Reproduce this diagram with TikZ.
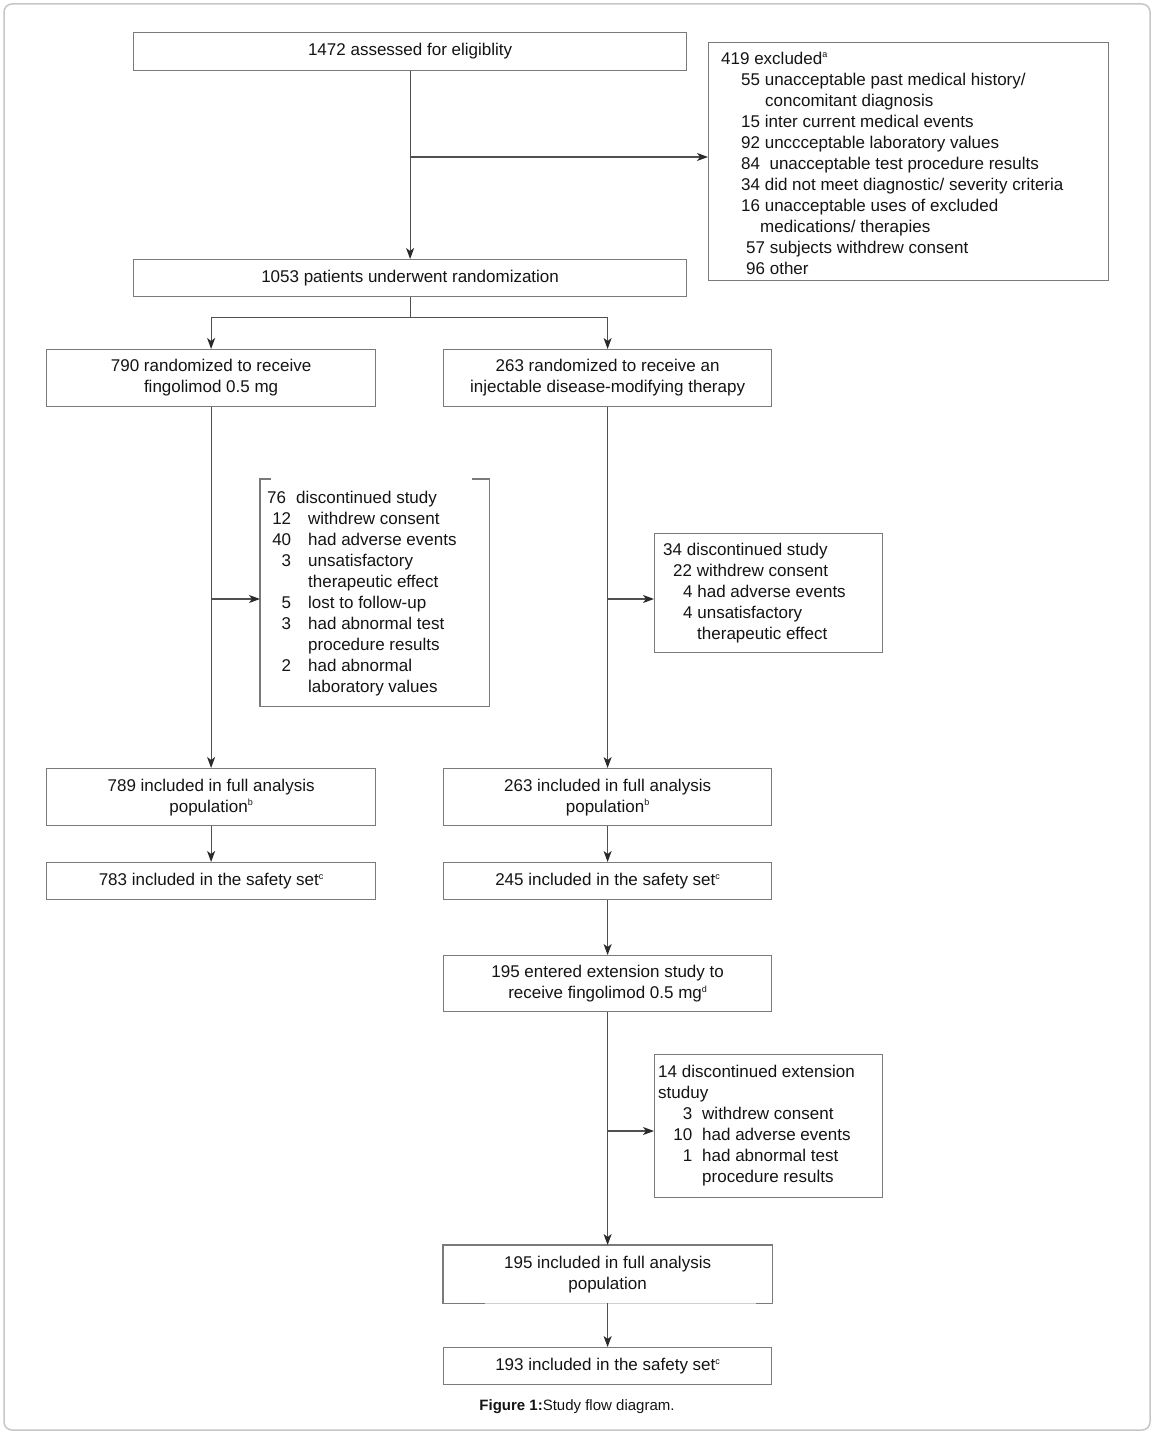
\documentclass[tikz,border=0pt]{standalone}
\usepackage{fontspec}
\setmainfont{Liberation Sans}
\usetikzlibrary{arrows.meta,calc}
\definecolor{boxc}{HTML}{7A7A7A}
\definecolor{linec}{HTML}{505050}
\definecolor{tipc}{HTML}{2A2A2A}
\definecolor{txtc}{HTML}{141414}
\definecolor{framec}{HTML}{C6C6C6}
\newcommand\supx[1]{\raisebox{6.5pt}{\fontsize{9}{9}\selectfont #1}}
\newcommand\nl[2]{\makebox[24pt][r]{#1}\hspace{17pt}#2}
\newcommand\hl[2]{\hspace{16pt}\makebox[18pt][r]{#1}\hspace{10pt}#2}
\begin{document}
\begin{tikzpicture}[x=1pt,y=-1pt,
  box/.style={draw=boxc,line width=1.2pt,fill=white,inner sep=0pt,anchor=north west,align=center,font=\fontsize{17}{21}\selectfont,text=txtc},
  lst/.style={inner sep=0pt,anchor=north west,font=\fontsize{17}{21}\selectfont,text=txtc},
  conn/.style={draw=linec,line width=1.1pt},
  arr/.style={conn,-{Stealth[length=11pt,width=8pt,inset=3pt,color=tipc]}}]
\useasboundingbox (0,0) rectangle (1154,1434);
\draw[framec,line width=1.5pt,rounded corners=8pt] (4,4) rectangle (1150,1430);

% boxes
\node[box,minimum width=553pt,minimum height=38pt] (A) at (133,32) {1472 assessed for eligiblity};
\node[box,minimum width=400pt,minimum height=238pt] (X) at (708,42) {};
\node[lst] (Xt) at ($(X.north west)+(13,7.6)$) {\begin{tabular}{@{}l@{}}419 excluded\supx{a}\\
\hspace{20pt}55 unacceptable past medical history/\\
\hspace{44pt}concomitant diagnosis\\
\hspace{20pt}15 inter current medical events\\
\hspace{20pt}92 unccceptable laboratory values\\
\hspace{20pt}84\ \ unacceptable test procedure results\\
\hspace{20pt}34 did not meet diagnostic/ severity criteria\\
\hspace{20pt}16 unacceptable uses of excluded\\
\hspace{39pt}medications/ therapies\\
\hspace{25pt}57 subjects withdrew consent\\
\hspace{25pt}96 other\end{tabular}};

\node[box,minimum width=553pt,minimum height=37pt] (B) at (133,259) {1053 patients underwent randomization};
\node[box,minimum width=329pt,minimum height=57pt] (C1) at (46,349) {790 randomized to receive\\ fingolimod 0.5 mg};
\node[box,minimum width=328pt,minimum height=57pt] (C2) at (443,349) {263 randomized to receive an\\ injectable disease-modifying therapy};

\node[box,draw=none,minimum width=228pt,minimum height=226pt] (D1) at (260,479) {};
\draw[draw=boxc,line width=1.2pt] ($(D1.north west)+(11,0)$) -- (D1.north west) -- (D1.south west) -- (D1.south east) -- (D1.north east) -- ++(-17,0);
\node[lst] (D1t) at ($(D1.north west)+(7,9.6)$) {\begin{tabular}{@{}l@{}}76\hspace{10pt}discontinued study\\
\nl{12}{withdrew consent}\\
\nl{40}{had adverse events}\\
\nl{3}{unsatisfactory}\\
\nl{}{therapeutic effect}\\
\nl{5}{lost to follow-up}\\
\nl{3}{had abnormal test}\\
\nl{}{procedure results}\\
\nl{2}{had abnormal}\\
\nl{}{laboratory values}\end{tabular}};

\node[box,minimum width=228pt,minimum height=119pt] (D2) at (654,533) {};
\node[lst] (D2t) at ($(D2.north west)+(9,7.4)$) {\begin{tabular}{@{}l@{}}34 discontinued study\\
\hspace{10pt}22 withdrew consent\\
\hspace{20pt}4 had adverse events\\
\hspace{20pt}4 unsatisfactory\\
\hspace{34pt}therapeutic effect\end{tabular}};

\node[box,minimum width=329pt,minimum height=57pt] (E1) at (46,768) {789 included in full analysis\\ population\supx{b}};
\node[box,minimum width=328pt,minimum height=57pt] (E2) at (443,768) {263 included in full analysis\\ population\supx{b}};
\node[box,minimum width=329pt,minimum height=37pt] (F1) at (46,862) {783 included in the safety set\supx{c}};
\node[box,minimum width=328pt,minimum height=37pt] (F2) at (443,862) {245 included in the safety set\supx{c}};
\node[box,minimum width=328pt,minimum height=56pt] (G) at (443,955) {195 entered extension study to\\ receive fingolimod 0.5 mg\supx{d}};

\node[box,minimum width=228pt,minimum height=143pt] (H) at (654,1054) {};
\node[lst] (Ht) at ($(H.north west)+(4,8.4)$) {\begin{tabular}{@{}l@{}}14 discontinued extension\\
studuy\\
\hl{3}{withdrew consent}\\
\hl{10}{had adverse events}\\
\hl{1}{had abnormal test}\\
\hspace{44pt}procedure results\end{tabular}};

\node[box,draw=none,minimum width=328pt,minimum height=57pt] (I) at (443,1245) {195 included in full analysis\\ population};
\draw[draw=boxc,line width=1.2pt] ($(I.south west)+(42,0)$) -- (I.south west) -- (I.north west) -- (I.north east) -- (I.south east) -- ++(-16,0);
\draw[draw=boxc!35,line width=1pt] ($(I.south west)+(42,0)$) -- ($(I.south east)+(-16,0)$);
\node[box,minimum width=328pt,minimum height=37pt] (J) at (443,1347) {193 included in the safety set\supx{c}};

\node[font=\fontsize{15}{18}\selectfont,text=txtc] (cap) at (577,1407) {\textbf{Figure 1:}Study flow diagram.};

% connectors
\coordinate (b1) at (409.5,157);
\coordinate (y599) at (0,599);
\coordinate (y1131) at (0,1131);
\draw[arr] (A.south) -- (B.north);
\draw[arr] (b1) -- (b1 -| X.west);
\draw[conn] (B.south) -- ++(0,20) coordinate (s);
\draw[conn] (s -| C1.north) -- (s -| C2.north);
\draw[arr] (s -| C1.north) -- (C1.north);
\draw[arr] (s -| C2.north) -- (C2.north);
\draw[arr] (C1.south) -- (E1.north);
\draw[arr] (C1.south |- y599) -- (D1.west |- y599);
\draw[arr] (C2.south) -- (E2.north);
\draw[arr] (C2.south |- y599) -- (D2.west |- y599);
\draw[arr] (E1.south) -- (F1.north);
\draw[arr] (E2.south) -- (F2.north);
\draw[arr] (F2.south) -- (G.north);
\draw[arr] (G.south) -- (I.north);
\draw[arr] (G.south |- y1131) -- (H.west |- y1131);
\draw[arr] (I.south) -- (J.north);
\end{tikzpicture}
\end{document}
